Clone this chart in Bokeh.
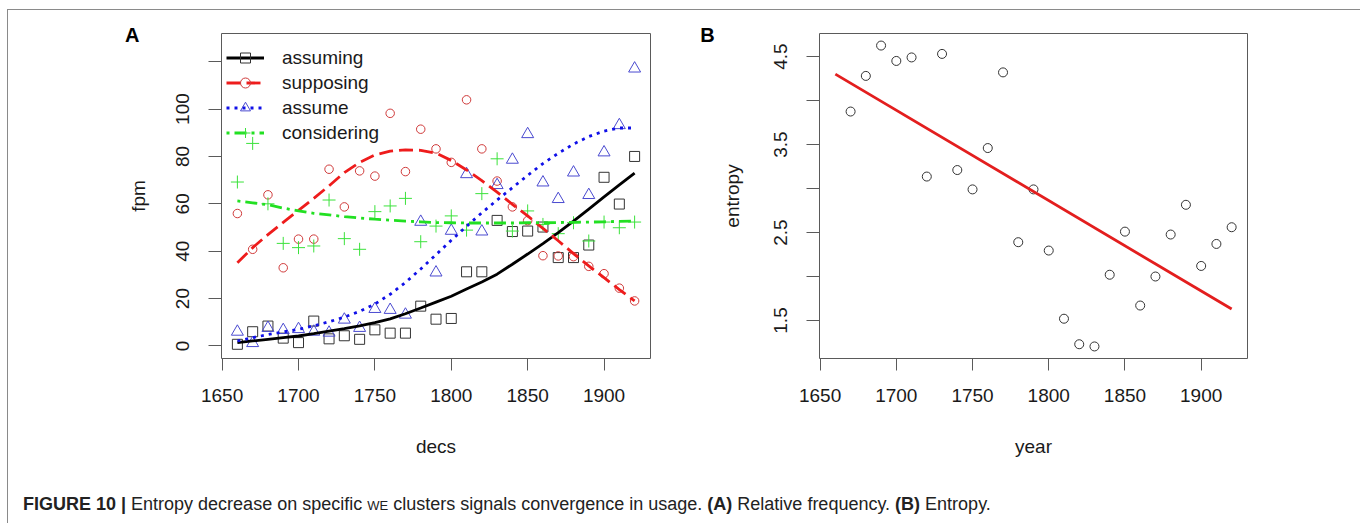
from bokeh.plotting import figure
from bokeh.models import Range1d, FixedTicker, Legend, LegendItem, Div
from bokeh.layouts import row, column
from bokeh.embed import file_html
from bokeh.resources import INLINE

# ---------------- data ----------------
decs = [1660, 1670, 1680, 1690, 1700, 1710, 1720, 1730, 1740, 1750, 1760, 1770, 1780, 1790,
        1800, 1810, 1820, 1830, 1840, 1850, 1860, 1870, 1880, 1890, 1900, 1910, 1920]

assuming = [0.7, 6.0, 8.4, 3.3, 1.4, 10.5, 3.0, 4.3, 2.8, 6.8, 5.4, 5.4, 16.8, 11.3,
            11.6, 31.3, 31.3, 53.0, 48.3, 48.5, 50.2, 37.3, 37.3, 42.6, 71.2, 59.9, 80.0]
supposing = [55.9, 40.8, 63.8, 33.0, 45.1, 45.1, 74.6, 58.7, 73.9, 71.7, 98.2, 73.6, 91.5, 83.2,
             77.5, 103.9, 83.2, 69.6, 58.7, 52.9, 38.1, 38.0, 37.7, 33.6, 30.5, 24.4, 19.0]
assume = [6.0, 1.2, 7.6, 6.7, 7.1, 6.0, 5.6, 11.1, 7.6, 15.6, 15.2, 13.2, 52.4, 31.0,
          48.6, 72.5, 48.3, 67.9, 78.6, 89.4, 69.0, 62.0, 73.2, 63.7, 81.7, 93.2, 117.1]
considering = [69.2, 85.5, 60.0, 43.3, 41.5, 42.2, 61.6, 45.3, 40.8, 56.7, 59.1, 62.3, 44.0, 50.6,
               54.9, 48.9, 64.3, 79.0, 48.5, 57.0, 51.3, 47.4, 52.0, 44.3, 52.3, 49.9, 52.3]

# smoothed curves
assuming_fit = [1.4, 2.1, 2.8, 3.5, 4.2, 5.2, 6.3, 7.3, 8.5, 9.8, 11.4, 13.6, 16.0, 18.5,
                21.0, 24.0, 27.0, 30.3, 34.5, 38.8, 43.2, 47.8, 52.7, 57.8, 62.9, 68.0, 73.0]
supposing_fit = [35.1, 41.5, 47.0, 52.2, 57.2, 62.3, 67.6, 73.2, 77.5, 80.6, 82.2, 82.8, 82.6, 81.4,
                 78.3, 74.3, 69.8, 64.9, 59.8, 54.9, 49.6, 44.4, 39.0, 33.8, 28.8, 23.8, 19.0]
assume_fit = [2.1, 3.5, 4.8, 5.9, 7.0, 8.5, 10.2, 12.2, 14.6, 17.7, 21.8, 26.8, 32.5, 38.5,
              44.6, 50.5, 56.2, 61.6, 66.8, 72.0, 77.0, 81.3, 85.2, 88.4, 90.7, 92.0, 92.0]
considering_fit = [61.2, 60.4, 59.6, 58.2, 57.0, 56.0, 55.3, 54.6, 54.0, 53.5, 53.1, 52.7, 52.4, 52.1,
                   52.0, 51.9, 51.9, 51.9, 51.9, 52.0, 52.0, 52.1, 52.2, 52.3, 52.4, 52.6, 52.7]

years = [1670, 1680, 1690, 1700, 1710, 1720, 1730, 1740, 1750, 1760, 1770, 1780, 1790,
         1800, 1810, 1820, 1830, 1840, 1850, 1860, 1870, 1880, 1890, 1900, 1910, 1920]
entropy = [3.875, 4.28, 4.625, 4.45, 4.49, 3.136, 4.53, 3.21, 2.99, 3.46, 4.32, 2.39, 2.99,
           2.295, 1.52, 1.23, 1.205, 2.02, 2.51, 1.67, 2.0, 2.477, 2.815, 2.12, 2.37, 2.56]
fit_years = [1660, 1920]
fit_entropy = [4.30, 1.63]

x_ticks = [1650, 1700, 1750, 1800, 1850, 1900]
fpm_ticks = [0, 20, 40, 60, 80, 100]
fpm_minor = [120]
ent_ticks = [1.5, 2.5, 3.5, 4.5]
ent_minor = [2.0, 3.0, 4.0]

FONT = "Liberation Sans"
TXT = "#1a1a1a"
AXC = "#5a5a5a"


def style(p, xlabel, ylabel, ylab_standoff, letter, letter_offset, letter_standoff):
    p.xgrid.visible = False
    p.ygrid.visible = False
    p.outline_line_color = AXC
    p.outline_line_width = 1
    p.background_fill_color = "white"
    p.border_fill_color = "white"
    for ax in (p.xaxis[0], p.yaxis[0]):
        ax.axis_line_color = None
        ax.major_tick_line_color = AXC
        ax.minor_tick_line_color = AXC
        ax.major_tick_in = 0
        ax.minor_tick_in = 0
        ax.major_label_text_font = FONT
        ax.major_label_text_font_size = "19px"
        ax.major_label_text_color = TXT
        ax.axis_label_text_font = FONT
        ax.axis_label_text_font_size = "19px"
        ax.axis_label_text_font_style = "normal"
        ax.axis_label_text_color = TXT
    p.xaxis[0].major_label_standoff = 18
    p.yaxis[0].major_label_standoff = 19
    p.xaxis[0].major_tick_out = 12
    p.xaxis[0].minor_tick_out = 12
    p.yaxis[0].major_tick_out = 13
    p.yaxis[0].minor_tick_out = 13
    p.xaxis[0].axis_label = xlabel
    p.yaxis[0].axis_label = ylabel
    p.xaxis[0].axis_label_standoff = 31
    p.yaxis[0].axis_label_standoff = ylab_standoff
    p.yaxis[0].major_label_orientation = "vertical"
    # panel letter as the figure title, shifted into the left margin
    p.title.text = letter
    p.title.align = "left"
    p.title.offset = letter_offset
    p.title.standoff = letter_standoff
    p.title.text_font = FONT
    p.title.text_font_size = "20px"
    p.title.text_font_style = "bold"
    p.title.text_color = "black"


# ---------------- panel A ----------------
pA = figure(frame_width=429, frame_height=325, min_border_left=213, min_border_right=38,
            min_border_top=23, min_border_bottom=112,
            x_range=Range1d(1649.6, 1930.4), y_range=Range1d(-5.3, 131.9),
            output_backend="svg", toolbar_location=None)
style(pA, "decs", "fpm", 25, "A", -96.5, -25)
pA.xaxis[0].ticker = FixedTicker(ticks=x_ticks)
pA.yaxis[0].ticker = FixedTicker(ticks=fpm_ticks, minor_ticks=fpm_minor)

s1 = pA.scatter(decs, assuming, marker="square", size=10, fill_color=None,
                line_color="#333333", line_width=1)
s2 = pA.scatter(decs, supposing, marker="circle", size=8.5, fill_color=None,
                line_color="#d03a3a", line_width=1)
s3 = pA.scatter(decs, assume, marker="triangle", size=12, fill_color=None,
                line_color="#4a4ad0", line_width=1)
s4 = pA.scatter(decs, considering, marker="cross", size=13,
                line_color="#3be23b", line_width=1)

l1 = pA.line(decs, assuming_fit, line_color="black", line_width=2.8)
l2 = pA.line(decs, supposing_fit, line_color="#ee1c1c", line_width=2.8, line_dash="14 6")
l3 = pA.line(decs, assume_fit, line_color="#1010e8", line_width=2.8, line_dash="3 5")
l4 = pA.line(decs, considering_fit, line_color="#22e022", line_width=2.8, line_dash="3 5 12 5")

legend = Legend(items=[
    LegendItem(label="assuming", renderers=[l1, s1]),
    LegendItem(label="supposing", renderers=[l2, s2]),
    LegendItem(label="assume", renderers=[l3, s3]),
    LegendItem(label="considering", renderers=[l4, s4]),
], location=(5, 213))
legend.glyph_width = 38
legend.glyph_height = 25
legend.label_height = 25
legend.spacing = 0
legend.padding = 0
legend.margin = 0
legend.label_standoff = 18
legend.border_line_color = None
legend.background_fill_alpha = 0
legend.label_text_font = FONT
legend.label_text_font_size = "19px"
legend.label_text_color = TXT
pA.add_layout(legend)

# ---------------- panel B ----------------
pB = figure(frame_width=428, frame_height=325, min_border_left=131, min_border_right=105,
            min_border_top=23, min_border_bottom=112,
            x_range=Range1d(1649.6, 1930.4), y_range=Range1d(1.068, 4.762),
            output_backend="svg", toolbar_location=None)
style(pB, "year", "entropy", 29, "B", -119.2, -25)
pB.xaxis[0].ticker = FixedTicker(ticks=x_ticks)
pB.yaxis[0].ticker = FixedTicker(ticks=ent_ticks, minor_ticks=ent_minor)

pB.scatter(years, entropy, marker="circle", size=9, fill_color=None,
           line_color="#333333", line_width=1)
pB.line(fit_years, fit_entropy, line_color="#e31e1e", line_width=2.8)

# ---------------- caption ----------------
cap_html = ("<div style=\"font-family:'Liberation Sans';font-size:18px;color:#222;"
            "padding:17px 0 0 10px;white-space:nowrap;\">"
            "<b>FIGURE 10 |</b> Entropy decrease on specific "
            "<span style='font-variant:small-caps'>we</span> clusters signals convergence in usage. "
            "<b>(A)</b> Relative frequency. <b>(B)</b> Entropy.</div>")
cap = Div(text=cap_html, width=1344, height=46)

layout = column(row(pA, pB), cap, margin=(9, 0, 0, 7),
                styles={"border-left": "1px solid #8a8a8a",
                        "border-top": "1px solid #8a8a8a",
                        "border-right": "1px solid #8a8a8a"})

open("out.html", "w").write(file_html(layout, INLINE))
